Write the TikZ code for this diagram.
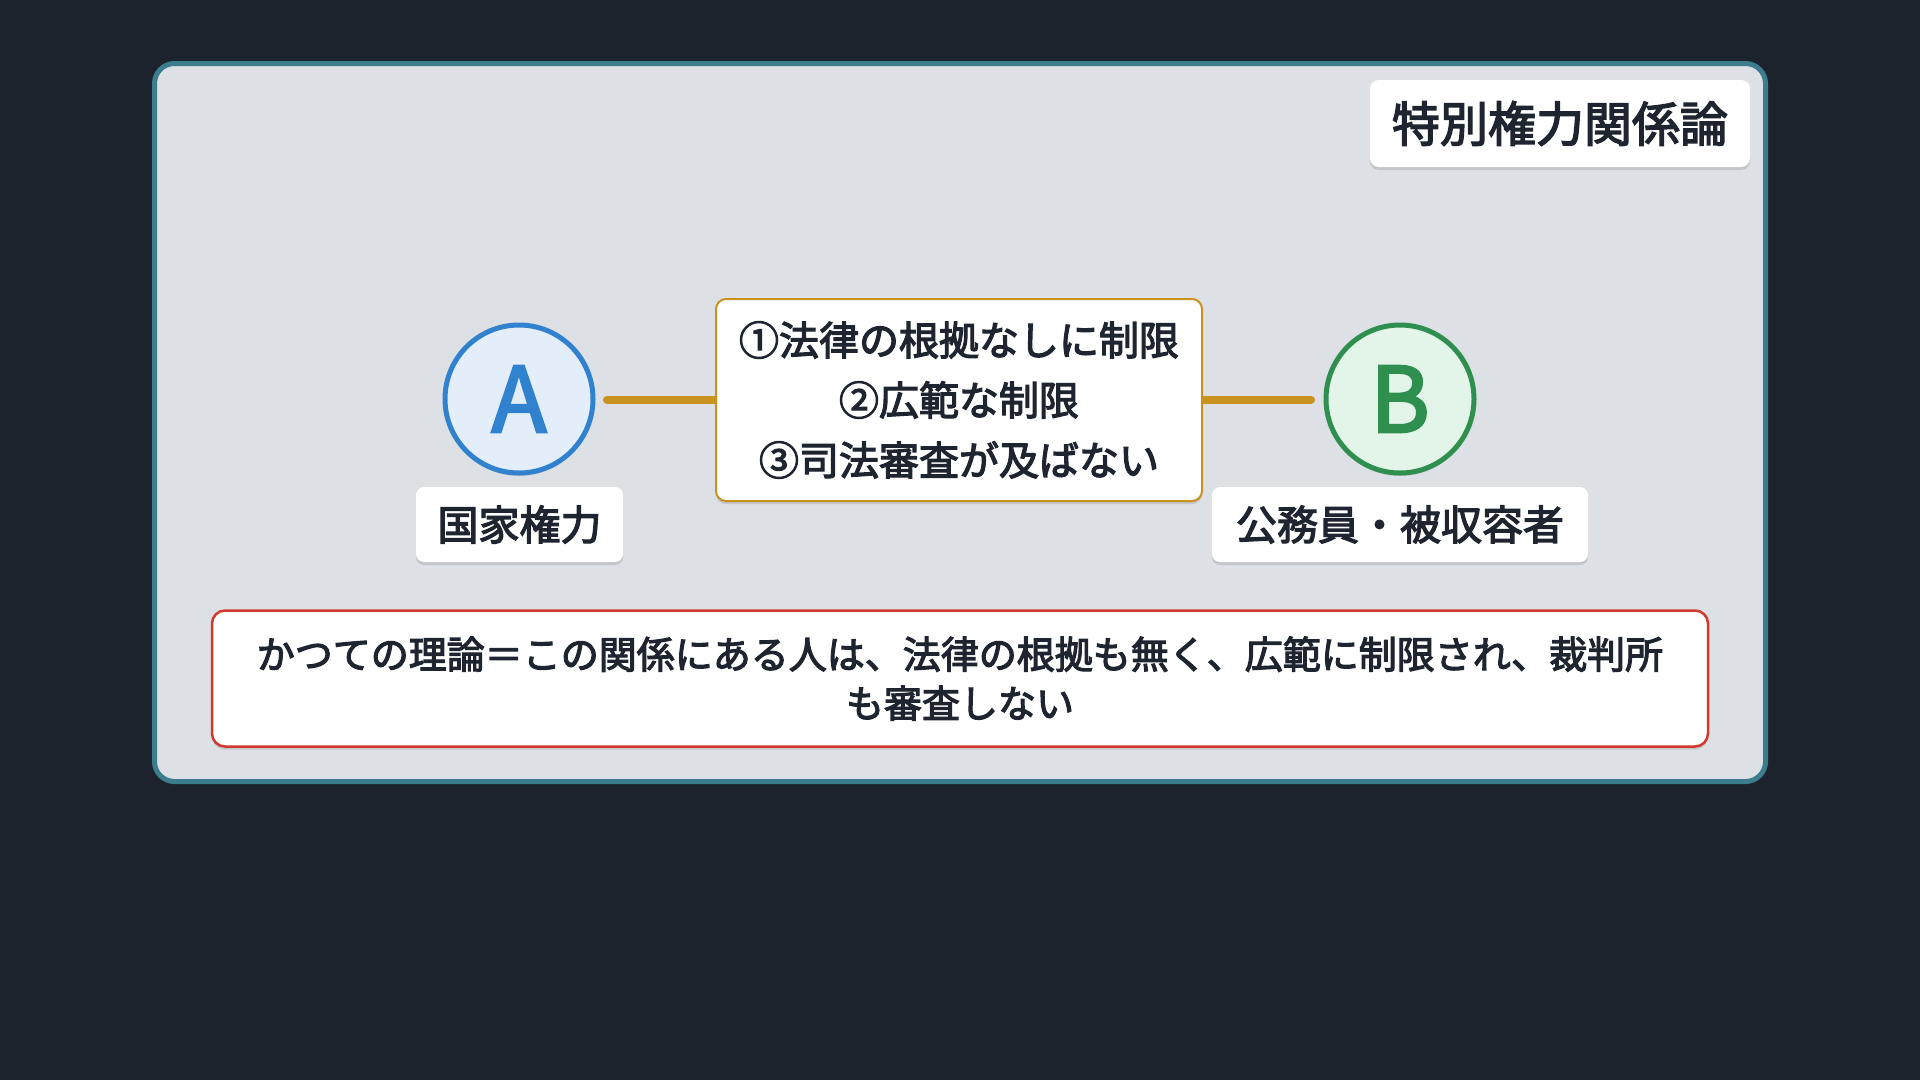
\documentclass[tikz,border=0pt]{standalone}
\usepackage{fontspec}
\newfontfamily\cjk[FakeBold=3]{Noto Sans CJK JP}
\usetikzlibrary{shadows}
\definecolor{bgdark}{HTML}{1D232D}
\definecolor{framefill}{HTML}{DDE1E6}
\definecolor{frameline}{HTML}{3B7D8C}
\definecolor{txt}{HTML}{1E2530}
\definecolor{ablue}{HTML}{3182CE}
\definecolor{afill}{HTML}{E3EEFA}
\definecolor{bgreen}{HTML}{2F8F4E}
\definecolor{bfill}{HTML}{E3F5E8}
\definecolor{gold}{HTML}{C9921E}
\definecolor{redline}{HTML}{D0392B}
\tikzset{
  softshadow/.style={drop shadow={opacity=0.12, shadow xshift=0pt, shadow yshift=-3pt, fill=black}},
  whitebox/.style={fill=white, rounded corners=9pt, inner sep=0pt, align=center, text=txt, softshadow},
  circ/.style={circle, line width=5pt, minimum size=148pt, inner sep=0pt, softshadow},
  conn/.style={draw=gold, line width=8pt, line cap=round},
}
\begin{document}
\begin{tikzpicture}[x=1pt,y=-1pt]
\useasboundingbox (0,0) rectangle (1920,1080);
\fill[bgdark] (0,0) rectangle (1920,1080);
% frame
\draw[frameline, fill=framefill, line width=5pt, rounded corners=20pt] (154.5,63.5) rectangle (1765.5,781.5);
% title
\node[whitebox, minimum width=380pt, minimum height=87pt, font=\cjk\fontsize{48}{52}\selectfont] (title) at (1560,123.5) {特別権力関係論};
% connector (behind middle box)
\coordinate (ls) at (607,399.5);
\coordinate (le) at (1311,399.5);
% circles
\node[circ, draw=ablue, fill=afill, text=ablue, font=\cjk\fontsize{90}{92}\selectfont] (A) at (519,399) {A};
\node[circ, draw=bgreen, fill=bfill, text=bgreen, font=\cjk\fontsize{90}{92}\selectfont] (B) at (1400,399) {B};
\draw[conn] (ls) -- (le);
% labels
\node[whitebox, rounded corners=8pt, minimum width=207pt, minimum height=75pt, font=\cjk\fontsize{41}{44}\selectfont] (la) at (519.5,524.5) {国家権力};
\node[whitebox, rounded corners=8pt, minimum width=376pt, minimum height=75pt, font=\cjk\fontsize{41}{44}\selectfont] (lb) at (1400,524.5) {公務員・被収容者};
% middle box
\node[whitebox, draw=gold, line width=2pt, rounded corners=10pt, minimum width=486pt, minimum height=202pt, font=\cjk\fontsize{40}{60}\selectfont] (mid) at (959,400) {①法律の根拠なしに制限\\②広範な制限\\③司法審査が及ばない};
% bottom box
\node[whitebox, draw=redline, line width=2.5pt, rounded corners=13pt, minimum width=1496pt, minimum height=136pt, font=\cjk\fontsize{38}{49}\selectfont] (note) at (960,678.5) {かつての理論＝この関係にある人は、法律の根拠も無く、広範に制限され、裁判所\\も審査しない};
\end{tikzpicture}
\end{document}
